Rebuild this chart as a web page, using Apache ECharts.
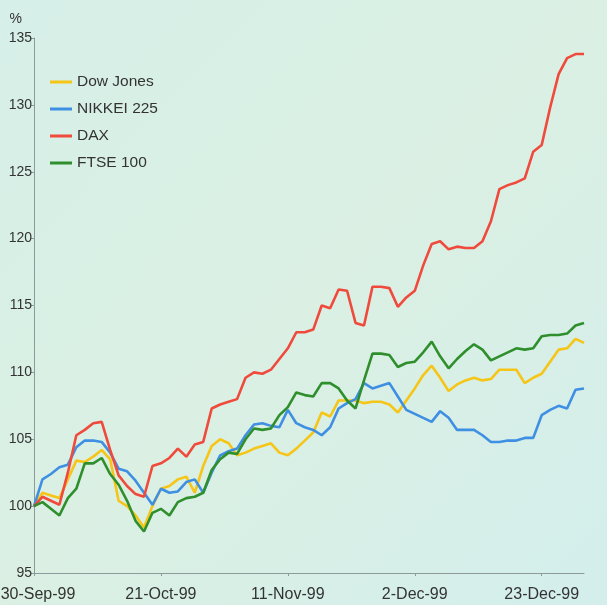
<!DOCTYPE html>
<html>
<head>
<meta charset="utf-8">
<script src="https://cdn.jsdelivr.net/npm/echarts@6/dist/echarts.min.js"></script>
<style>
html,body{margin:0;padding:0;background:#d7efe7;}
#chart{width:607px;height:605px;}
</style>
</head>
<body>
<div id="chart"></div>
<script>
const dates = ["30-Sep-99","1-Oct-99","4-Oct-99","5-Oct-99","6-Oct-99","7-Oct-99","8-Oct-99","11-Oct-99","12-Oct-99","13-Oct-99","14-Oct-99","15-Oct-99","18-Oct-99","19-Oct-99","20-Oct-99","21-Oct-99","22-Oct-99","25-Oct-99","26-Oct-99","27-Oct-99","28-Oct-99","29-Oct-99","1-Nov-99","2-Nov-99","3-Nov-99","4-Nov-99","5-Nov-99","8-Nov-99","9-Nov-99","10-Nov-99","11-Nov-99","12-Nov-99","15-Nov-99","16-Nov-99","17-Nov-99","18-Nov-99","19-Nov-99","22-Nov-99","23-Nov-99","24-Nov-99","25-Nov-99","26-Nov-99","29-Nov-99","30-Nov-99","1-Dec-99","2-Dec-99","3-Dec-99","6-Dec-99","7-Dec-99","8-Dec-99","9-Dec-99","10-Dec-99","13-Dec-99","14-Dec-99","15-Dec-99","16-Dec-99","17-Dec-99","20-Dec-99","21-Dec-99","22-Dec-99","23-Dec-99","24-Dec-99","27-Dec-99","28-Dec-99","29-Dec-99","30-Dec-99"];

const dowJones = [100.0,101.0,100.8,100.6,102.0,103.4,103.3,103.7,104.2,103.5,100.4,100.0,99.3,98.4,100.0,101.3,101.5,102.0,102.2,101.0,103.0,104.5,105.0,104.7,103.8,104.0,104.3,104.5,104.7,104.0,103.8,104.3,104.9,105.5,107.0,106.7,107.9,107.9,107.9,107.7,107.8,107.8,107.6,107.0,107.9,108.8,109.8,110.5,109.6,108.6,109.1,109.4,109.6,109.4,109.5,110.2,110.2,110.2,109.2,109.6,109.9,110.8,111.7,111.8,112.5,112.2];

const nikkei = [100.0,102.0,102.4,102.9,103.1,104.4,104.9,104.9,104.8,104.0,102.8,102.6,101.9,101.0,100.1,101.3,101.0,101.1,101.8,102.0,101.0,102.5,103.8,104.1,104.3,105.3,106.1,106.2,106.0,105.9,107.2,106.2,105.9,105.7,105.3,105.9,107.3,107.7,108.0,109.2,108.8,109.0,109.2,108.2,107.2,106.9,106.6,106.3,107.1,106.6,105.7,105.7,105.7,105.3,104.8,104.8,104.9,104.9,105.1,105.1,106.8,107.2,107.5,107.3,108.7,108.8];

const dax = [100.0,100.7,100.4,100.1,102.5,105.3,105.7,106.2,106.3,104.2,102.3,101.5,100.9,100.7,103.0,103.2,103.6,104.3,103.7,104.6,104.8,107.3,107.6,107.8,108.0,109.6,110.0,109.9,110.2,111.0,111.8,113.0,113.0,113.2,115.0,114.8,116.2,116.1,113.7,113.5,116.4,116.4,116.3,114.9,115.6,116.1,118.0,119.6,119.8,119.2,119.4,119.3,119.3,119.8,121.3,123.7,124.0,124.2,124.5,126.5,127.0,129.8,132.3,133.5,133.8,133.8];

const ftse = [100.0,100.3,99.8,99.3,100.6,101.3,103.2,103.2,103.6,102.4,101.6,100.4,98.9,98.1,99.5,99.8,99.3,100.3,100.6,100.7,101.0,102.7,103.5,104.0,103.9,105.0,105.8,105.7,105.8,106.8,107.4,108.5,108.3,108.2,109.2,109.2,108.8,107.9,107.3,109.4,111.4,111.4,111.3,110.4,110.7,110.8,111.5,112.3,111.2,110.3,111.0,111.6,112.1,111.7,110.9,111.2,111.5,111.8,111.7,111.8,112.7,112.8,112.8,112.9,113.5,113.7];

const seriesNames = ["Dow Jones","NIKKEI 225","DAX","FTSE 100"];
const seriesColors = ["#f5c518","#3f8fe3","#ef4a3c","#2f8f2c"];
const seriesData = [dowJones, nikkei, dax, ftse];

const chart = echarts.init(document.getElementById('chart'));
const font = 'Liberation Sans, Arial, sans-serif';
chart.setOption({
  backgroundColor: {
    type: 'linear', x: 0, y: 0, x2: 1, y2: 1,
    colorStops: [{offset: 0, color: '#d6efe8'}, {offset: 0.5, color: '#dbf0e3'}, {offset: 1, color: '#d3eeec'}]
  },
  animation: false,
  grid: {left: 34, right: 23, top: 38, bottom: 32, containLabel: false, outerBoundsMode: 'none'},
  legend: {
    orient: 'vertical',
    left: 45, top: 69,
    itemWidth: 22, itemHeight: 3, itemGap: 11,
    icon: 'rect',
    textStyle: {fontFamily: font, fontSize: 15.5, lineHeight: 16, color: '#333'},
    data: seriesNames
  },
  xAxis: {
    type: 'category',
    data: dates,
    boundaryGap: false,
    axisLine: {lineStyle: {color: '#8d9a9a', width: 1}},
    axisTick: {show: true, length: 3, interval: (i) => i % 15 === 0, lineStyle: {color: '#8d9a9a'}},
    axisLabel: {
      interval: (i) => i % 15 === 0,
      fontFamily: font, fontSize: 16, color: '#333', margin: 14,
      formatter: (v, i) => i === 0 ? '{first|' + v + '}' : v,
      rich: {first: {fontFamily: font, fontSize: 16, color: '#333', padding: [0, 0, 0, 8]}}
    },
    splitLine: {show: false}
  },
  yAxis: {
    type: 'value',
    min: 95, max: 135, interval: 5,
    name: '%',
    nameLocation: 'end',
    nameGap: 12,
    nameTextStyle: {fontFamily: font, fontSize: 14, color: '#333', align: 'right', padding: [0, 12, 0, 0]},
    axisLine: {show: true, lineStyle: {color: '#8d9a9a', width: 1}},
    axisTick: {show: true, length: 3, lineStyle: {color: '#8d9a9a'}},
    axisLabel: {fontFamily: font, fontSize: 14, color: '#333', margin: 2},
    splitLine: {show: false}
  },
  series: seriesNames.map((n, k) => ({
    name: n,
    type: 'line',
    data: seriesData[k],
    showSymbol: false,
    symbol: 'none',
    lineStyle: {color: seriesColors[k], width: 2.6},
    itemStyle: {color: seriesColors[k]}
  }))
});
</script>
</body>
</html>
